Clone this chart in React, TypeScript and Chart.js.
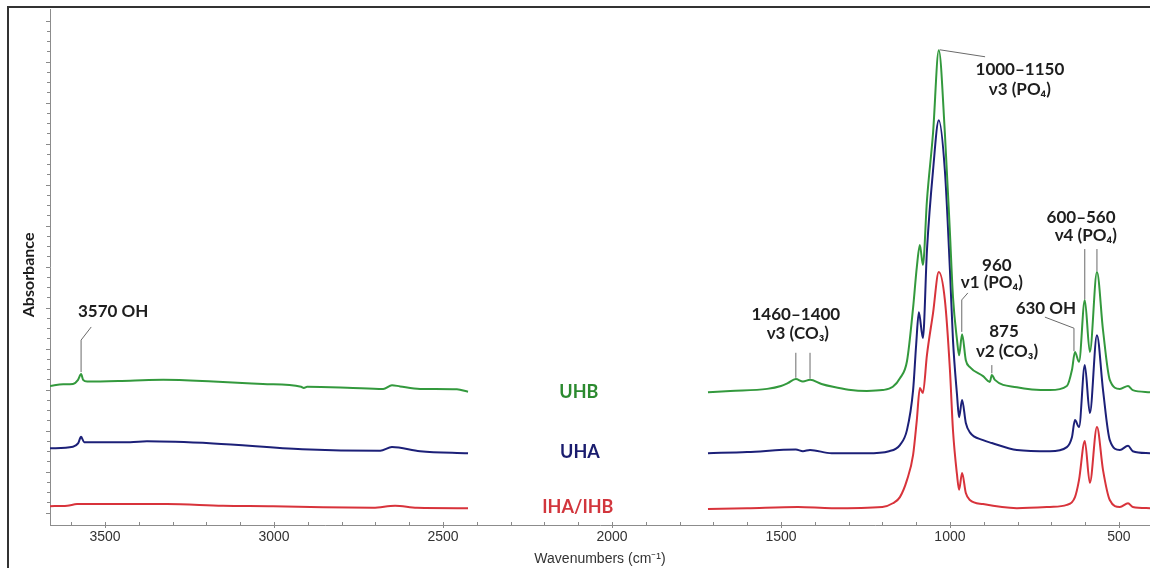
import React, { useEffect, useRef } from "react";
import { Chart, registerables } from "chart.js";

Chart.register(...registerables);

// ---- Series colours ----
const GREEN = "#33993d";
const NAVY = "#1c2078";
const RED = "#d8333b";

// ---- UHB (green) ----
const uhbLeftWn = [3663, 3624, 3595, 3580, 3571, 3565, 3553, 3426, 3328, 3180, 3033, 2920, 2912, 2902, 2784, 2677, 2651, 2627, 2568, 2459, 2426];
const uhbLeftAbs = [0.309, 0.313, 0.314, 0.324, 0.338, 0.324, 0.320, 0.322, 0.324, 0.320, 0.314, 0.307, 0.304, 0.307, 0.305, 0.302, 0.311, 0.308, 0.302, 0.301, 0.295];
const uhbRightWn = [1716, 1650, 1541, 1500, 1480, 1456, 1435, 1414, 1380, 1346, 1300, 1246, 1200, 1169, 1148, 1127, 1109, 1098, 1089, 1080, 1068, 1050, 1033, 1015, 1000, 991, 979, 973, 964, 953, 941, 902, 882, 876, 867, 802, 704, 654, 639, 630, 618, 601, 586, 565, 547, 527, 497, 473, 459, 408];
const uhbRightAbs = [0.294, 0.297, 0.302, 0.309, 0.316, 0.326, 0.320, 0.324, 0.314, 0.307, 0.300, 0.297, 0.299, 0.307, 0.328, 0.370, 0.500, 0.599, 0.653, 0.604, 0.762, 0.926, 1.128, 0.926, 0.682, 0.526, 0.421, 0.384, 0.435, 0.372, 0.355, 0.333, 0.319, 0.336, 0.324, 0.306, 0.299, 0.309, 0.348, 0.392, 0.368, 0.519, 0.392, 0.587, 0.445, 0.324, 0.302, 0.309, 0.299, 0.294];

// ---- UHA (navy) ----
const uhaLeftWn = [3663, 3595, 3580, 3571, 3562, 3426, 3376, 3180, 2917, 2686, 2651, 2568, 2426];
const uhaLeftAbs = [0.157, 0.161, 0.169, 0.185, 0.172, 0.172, 0.174, 0.169, 0.155, 0.151, 0.160, 0.150, 0.145];
const uhaRightWn = [1716, 1600, 1456, 1435, 1414, 1350, 1246, 1180, 1148, 1127, 1109, 1100, 1092, 1080, 1068, 1050, 1033, 1015, 1000, 991, 979, 973, 964, 953, 941, 902, 876, 802, 704, 654, 639, 630, 618, 601, 586, 565, 547, 527, 497, 473, 459, 408];
const uhaRightAbs = [0.145, 0.148, 0.154, 0.150, 0.153, 0.145, 0.145, 0.150, 0.165, 0.202, 0.299, 0.409, 0.489, 0.426, 0.640, 0.835, 0.957, 0.835, 0.592, 0.421, 0.287, 0.233, 0.275, 0.219, 0.196, 0.177, 0.170, 0.153, 0.150, 0.160, 0.184, 0.226, 0.209, 0.360, 0.243, 0.433, 0.299, 0.177, 0.153, 0.163, 0.150, 0.145];

// ---- IHA/IHB (red) ----
const ihaLeftWn = [3663, 3612, 3583, 3494, 3317, 3151, 3003, 2855, 2707, 2642, 2577, 2426];
const ihaLeftAbs = [0.016, 0.017, 0.021, 0.021, 0.021, 0.017, 0.016, 0.013, 0.012, 0.017, 0.012, 0.011];
const ihaRightWn = [1716, 1600, 1450, 1350, 1200, 1169, 1148, 1127, 1109, 1098, 1089, 1080, 1068, 1050, 1033, 1015, 1000, 991, 979, 973, 964, 953, 941, 902, 802, 704, 654, 630, 618, 601, 586, 565, 547, 527, 497, 473, 459, 408];
const ihaRightAbs = [0.009, 0.011, 0.014, 0.011, 0.014, 0.023, 0.038, 0.080, 0.141, 0.226, 0.304, 0.292, 0.385, 0.487, 0.587, 0.519, 0.348, 0.201, 0.092, 0.056, 0.097, 0.048, 0.031, 0.021, 0.011, 0.014, 0.019, 0.038, 0.080, 0.175, 0.073, 0.209, 0.104, 0.031, 0.014, 0.023, 0.014, 0.011];

// ---- Axes ----
const xMin = 408;
const xMax = 3663;
const xTickValues = [3500, 3000, 2500, 2000, 1500, 1000, 500];
const xMinorStep = 100;
const yMin = -0.03;
const yMax = 1.2285;
const yMinorStep = 0.025;
const yTickTop = 1.2;
const yTitle = "Absorbance";
const yTitleAbs = 0.58;

// ---- Sample labels ----
const sampleNames = ["UHB", "UHA", "IHA/IHB"];
const sampleColors = ["#2b8a2f", "#1a1c6e", "#d2363d"];
const sampleLabelWn = [2098, 2095, 2101];
const sampleLabelAbs = [0.294, 0.148, 0.014];

// ---- Band annotations ----
const annotationTexts = ["3570 OH", "1000\u20131150", "\u03bd3 (PO\u2084)", "600\u2013560", "\u03bd4 (PO\u2084)", "960", "\u03bd1 (PO\u2084)", "1460\u20131400", "\u03bd3 (CO\u2083)", "875", "\u03bd2 (CO\u2083)", "630 OH"];
const annotationWn = [3476, 793, 793, 612, 598, 861, 876, 1456, 1450, 840, 831, 716];
const annotationAbs = [0.490, 1.082, 1.033, 0.721, 0.677, 0.604, 0.562, 0.484, 0.438, 0.441, 0.392, 0.499];
const leaderLines: number[][][] = [
  [[3541, 0.453], [3571, 0.421], [3571, 0.343]],
  [[1030, 1.129], [896, 1.112]],
  [[601, 0.643], [601, 0.521]],
  [[565, 0.643], [565, 0.589]],
  [[947, 0.536], [965, 0.519], [965, 0.441]],
  [[1456, 0.390], [1456, 0.329]],
  [[1414, 0.390], [1414, 0.327]],
  [[876, 0.360], [876, 0.340]],
  [[719, 0.477], [633, 0.450], [633, 0.394]],
];

function toPoints(lw: number[], la: number[], rw: number[], ra: number[]) {
  const left = lw.map((w, i) => ({ x: w, y: la[i] }));
  const right = rw.map((w, i) => ({ x: w, y: ra[i] }));
  return [...left, { x: 2000, y: null as any }, ...right];
}

const decorPlugin = {
  id: "ftirDecor",
  afterDraw(chart: any) {
    const { ctx, scales } = chart;
    const x = scales.x;
    const y = scales.y;
    const area = chart.chartArea;
    ctx.save();
    // outer frame (left and top)
    ctx.strokeStyle = "#333";
    ctx.lineWidth = 2;
    ctx.beginPath();
    ctx.moveTo(8, 568);
    ctx.lineTo(8, 7);
    ctx.lineTo(1150, 7);
    ctx.stroke();

    // x ticks (pointing up)
    ctx.strokeStyle = "#8a8a8a";
    ctx.lineWidth = 1;
    ctx.beginPath();
    for (let v = 500; v <= 3600; v += xMinorStep) {
      const px = Math.round(x.getPixelForValue(v)) + 0.5;
      const major = v % 500 === 0;
      ctx.moveTo(px, area.bottom - 3);
      ctx.lineTo(px, area.bottom + (major ? 3 : 0));
    }
    // y ticks (pointing left)
    for (let k = 0; k * yMinorStep <= yTickTop + 1e-9; k++) {
      const v = k * yMinorStep;
      const py = Math.round(y.getPixelForValue(v)) + 0.5;
      const major = k % 4 === 0;
      ctx.moveTo(area.left - (major ? 4 : 3), py);
      ctx.lineTo(area.left, py);
    }
    ctx.stroke();

    // y-axis title
    ctx.save();
    ctx.translate(29, y.getPixelForValue(yTitleAbs));
    ctx.rotate(-Math.PI / 2);
    ctx.textAlign = "center";
    ctx.textBaseline = "middle";
    ctx.fillStyle = "#1a1a1a";
    ctx.font = "bold 16px Lato, 'DejaVu Sans', sans-serif";
    ctx.fillText(yTitle, 0, 0);
    ctx.restore();

    // leader lines
    ctx.strokeStyle = "#6a6a6a";
    ctx.lineWidth = 1;
    leaderLines.forEach((pts) => {
      ctx.beginPath();
      pts.forEach(([w, a], i) => {
        const px = x.getPixelForValue(w);
        const py = y.getPixelForValue(a);
        if (i === 0) ctx.moveTo(px, py);
        else ctx.lineTo(px, py);
      });
      ctx.stroke();
    });

    // annotation text
    ctx.textAlign = "center";
    ctx.textBaseline = "middle";
    ctx.fillStyle = "#1e1e1e";
    ctx.font = "bold 17px Lato, 'DejaVu Sans', sans-serif";
    annotationTexts.forEach((t, i) => {
      ctx.fillText(t, x.getPixelForValue(annotationWn[i]), y.getPixelForValue(annotationAbs[i]));
    });

    // sample labels
    ctx.font = "bold 18px Lato, 'DejaVu Sans', sans-serif";
    sampleNames.forEach((t, i) => {
      ctx.fillStyle = sampleColors[i];
      ctx.fillText(t, x.getPixelForValue(sampleLabelWn[i]), y.getPixelForValue(sampleLabelAbs[i]));
    });
    ctx.restore();
  },
};

export default function App() {
  const canvasRef = useRef<HTMLCanvasElement | null>(null);

  useEffect(() => {
    if (!canvasRef.current) return;
    const common = {
      pointRadius: 0,
      borderWidth: 2,
      fill: false,
      cubicInterpolationMode: "monotone" as const,
      spanGaps: false,
    };
    const chart = new Chart(canvasRef.current, {
      type: "line",
      data: {
        datasets: [
          { label: "UHB", data: toPoints(uhbLeftWn, uhbLeftAbs, uhbRightWn, uhbRightAbs), borderColor: GREEN, ...common },
          { label: "UHA", data: toPoints(uhaLeftWn, uhaLeftAbs, uhaRightWn, uhaRightAbs), borderColor: NAVY, ...common },
          { label: "IHA/IHB", data: toPoints(ihaLeftWn, ihaLeftAbs, ihaRightWn, ihaRightAbs), borderColor: RED, ...common },
        ],
      },
      options: {
        animation: false,
        responsive: false,
        maintainAspectRatio: false,
        layout: { padding: { left: 8, top: 9, right: 0, bottom: 0 } },
        plugins: { legend: { display: false }, tooltip: { enabled: false } },
        scales: {
          x: {
            type: "linear",
            reverse: true,
            min: xMin,
            max: xMax,
            afterFit: (s: any) => {
              s.height = 43;
            },
            afterBuildTicks: (s: any) => {
              s.ticks = xTickValues.map((v) => ({ value: v }));
            },
            grid: { display: false, drawTicks: false },
            border: { display: true, color: "#8c8c8c", width: 1 },
            ticks: {
              color: "#333",
              padding: 4,
              maxRotation: 0,
              autoSkip: false,
              callback: (v: any) => String(v),
              font: { family: "'Liberation Sans', Arial, sans-serif", size: 14 },
            },
            title: {
              display: true,
              text: "Wavenumbers (cm\u207B\u00B9)",
              color: "#333",
              padding: { top: 0, bottom: 0 },
              font: { family: "'Liberation Sans', Arial, sans-serif", size: 14 },
            },
          },
          y: {
            type: "linear",
            min: yMin,
            max: yMax,
            afterFit: (s: any) => {
              s.width = 42;
            },
            grid: { display: false, drawTicks: false },
            border: { display: true, color: "#8c8c8c", width: 1 },
            ticks: { display: false },
            title: { display: false },
          },
        },
      },
      plugins: [decorPlugin],
    } as any);
    return () => chart.destroy();
  }, []);

  return (
    <canvas
      ref={canvasRef}
      width={1150}
      height={568}
      style={{ position: "fixed", left: 0, top: 0, width: 1150, height: 568, display: "block", background: "#fff" }}
    />
  );
}
